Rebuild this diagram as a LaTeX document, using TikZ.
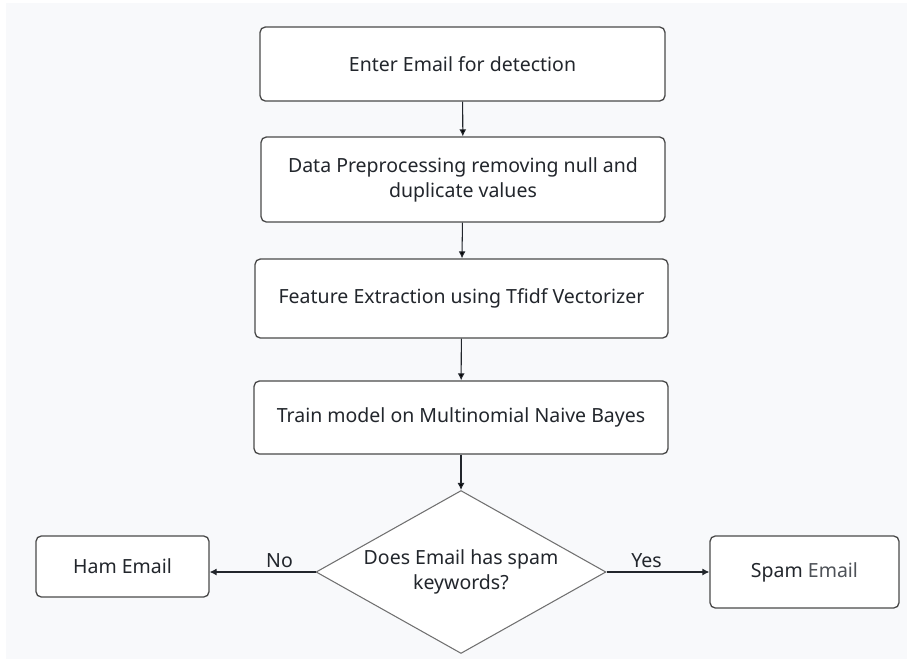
\documentclass[tikz,border=0pt]{standalone}
\usepackage{fontspec}
\setmainfont{Noto Sans}
\usetikzlibrary{arrows.meta, calc, positioning, shapes.geometric}
\definecolor{pagegray}{HTML}{F8F9FB}
\definecolor{inkdark}{HTML}{22262C}
\definecolor{inksoft}{HTML}{4E5258}
\definecolor{rimdark}{HTML}{4A4A4A}
\definecolor{rimsoft}{HTML}{707070}
\tikzset
{%
box/.style={draw=rimdark, fill=white, rounded corners=3pt, line width=0.75pt, align=center, inner sep=0pt, text=inkdark},
decide/.style={draw=rimsoft, fill=white, diamond, aspect=1.78, line width=0.6pt, align=center, inner sep=0pt, text=inkdark},
lab/.style={text=inkdark, anchor=base, yshift=0.1cm, inner sep=0pt},
flow/.style={->, draw=inkdark, line width=0.6pt},
>={Latex[length=4pt, width=4pt]}
}

\begin{document}
\begin{tikzpicture}[x=0.02cm, y=-0.02cm, font=\fontsize{11.1}{14.2}\selectfont]
		%Page
		\fill[white] (0, 0) rectangle (907, 660);
		\fill[pagegray] (6, 3) rectangle (907, 659);
		\useasboundingbox (0, 0) rectangle (907, 660);
		
		%Pipeline
		\node[box, minimum width=8.1cm, minimum height=1.48cm] (enter) at (462.5, 64) {Enter Email for detection};
		\node[box, minimum width=8.08cm, minimum height=1.7cm] (prep) at (463, 179.5) {Data Preprocessing removing null and\\duplicate values};
		\node[box, minimum width=8.26cm, minimum height=1.58cm] (feat) at (461.5, 298.5) {Feature Extraction using Tfidf Vectorizer};
		\node[box, minimum width=8.28cm, minimum height=1.46cm] (train) at (461, 417.5) {Train model on Multinomial Naive Bayes};
		
		%Decision
		\node[decide, minimum width=5.8cm, minimum height=3.26cm] (spamq) at (461, 572) {Does Email has spam\\keywords?};
		\node[box, minimum width=3.46cm, minimum height=1.22cm] (ham) at (122.5, 566.5) {Ham Email};
		\node[box, minimum width=3.78cm, minimum height=1.44cm] (spam) at (804.5, 572) {Spam \textcolor{inksoft}{Email}};
		
		\path[flow] (enter) edge (prep) (prep) edge (feat)
		(feat) edge (train) (train) edge (spamq);
		\draw[flow] (spamq.west) -- node[lab, pos=0.34] {No} (spamq.west -| ham.east);
		\draw[flow] (spamq.east) -- node[lab, pos=0.39] {Yes} (spamq.east -| spam.west);
	\end{tikzpicture}
\end{document}
